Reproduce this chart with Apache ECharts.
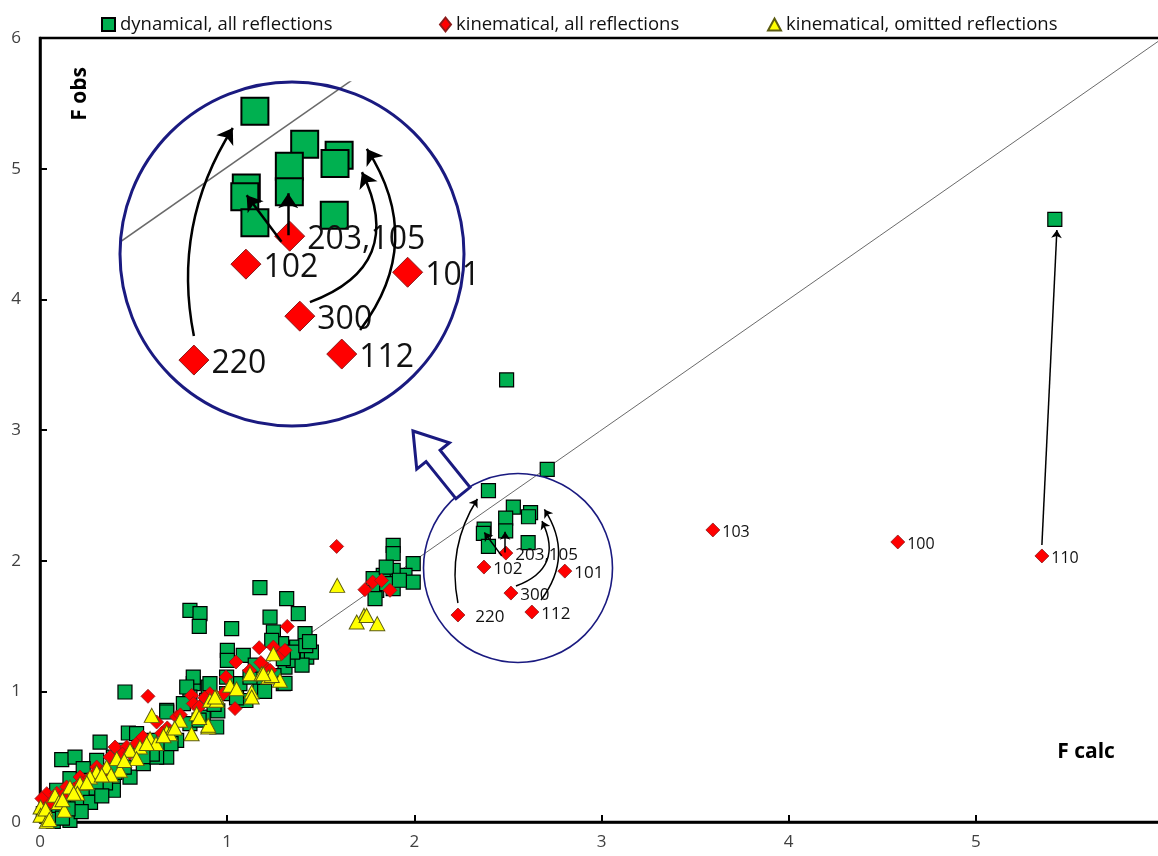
<!DOCTYPE html>
<html><head><meta charset="utf-8">
<script src="https://cdn.jsdelivr.net/npm/echarts@6/dist/echarts.min.js"></script>
<style>html,body{margin:0;padding:0;background:#fff}#c{width:1158px;height:856px}</style>
</head><body><div id="c"></div>
<script>
// ---------- data ----------
const axisMin = 0, axisMax = 6, axisStep = 1;
const diagonal = [[0, 0], [6, 6]];

// dynamical, all reflections (green squares), outside the highlighted circle
const dynamical = [
 [1.175,1.793],[1.318,1.709],[0.801,1.620],[0.855,1.594],[0.851,1.497],[1.024,1.480],[1.380,1.594],[1.229,1.568],
 [1.247,1.454],[1.416,1.441],[1.001,1.314],[1.086,1.275],[1.001,1.237],[1.291,1.365],[1.309,1.186],[1.371,1.339],
 [1.425,1.262],[1.238,1.390],[1.353,1.237],[1.300,1.059],[1.175,1.033],[1.068,1.059],[0.997,1.109],[1.122,1.109],
 [0.899,1.033],[0.819,1.059],[0.819,1.109],[0.890,0.931],[0.801,0.956],[0.766,0.906],[0.997,0.982],[0.677,0.855],
 [0.454,0.995],[0.116,0.477],[0.187,0.497],[0.321,0.612],[0.472,0.681],[0.516,0.676],[0.677,0.842],[0.160,0.332],
 [0.303,0.472],[0.392,0.497],[0.231,0.409],[0.445,0.549],[0.534,0.574],[0.588,0.625],[0.650,0.574],[0.677,0.497],
 [0.730,0.625],[0.801,0.753],[0.872,0.803],[0.944,0.727],[0.784,1.033],[0.908,1.059],[0.481,0.344],[0.392,0.319],
 [0.303,0.243],[0.552,0.447],[0.623,0.497],[0.214,0.191],[0.125,0.115],[0.053,0.141],[0.018,0.064],[0.160,0.013],
 [0.071,0.005],[0.392,0.243],[0.267,0.319],[0.089,0.243],
 [1.887,2.117],[1.887,2.054],[1.994,1.977],[1.950,1.888],[1.994,1.836],[1.887,1.926],[1.834,1.888],[1.780,1.862],
 [1.799,1.773],[1.887,1.786],[1.790,1.709],[1.852,1.824],[1.850,1.950],[1.920,1.850],
 [1.100,0.930],[1.200,1.000],[1.450,1.300],[1.400,1.200],[1.150,1.200],[0.950,0.850],[0.850,0.780],[0.700,0.600],
 [0.600,0.520],[0.550,0.500],[0.450,0.420],[0.350,0.300],[0.250,0.210],[0.200,0.120],[0.100,0.060],[0.050,0.020],
 [0.120,0.030],[1.050,0.950],[1.250,1.120],[1.350,1.300],[1.420,1.350],[0.930,0.900],[0.400,0.380],[0.300,0.260],
 [0.270,0.150],[0.220,0.080],[0.150,0.100],[0.330,0.200],[1.300,1.250],[1.440,1.380],[1.309,1.061],
 [2.493,3.383],[2.710,2.698],[5.422,4.612]
];
// dynamical points inside the highlighted circle
const dynCircle = [
 [2.396,2.536],[2.529,2.410],[2.621,2.368],[2.610,2.336],[2.488,2.326],[2.488,2.228],[2.373,2.242],[2.369,2.209],
 [2.396,2.109],[2.608,2.138]
];
// kinematical, all reflections (red diamonds)
const kinematical = [
 [1.321,1.497],[1.171,1.334],[1.047,1.224],[0.994,1.109],[1.247,1.339],[1.291,1.288],[1.309,1.314],[1.202,1.186],
 [1.229,1.161],[0.908,0.982],[0.810,0.969],[0.819,0.906],[1.042,0.868],[0.577,0.962],[0.401,0.574],[0.730,0.803],
 [0.623,0.765],[0.516,0.600],[0.303,0.421],[0.142,0.268],[0.036,0.217],[0.010,0.179],[0.214,0.344],[0.374,0.497],
 [0.463,0.574],[0.979,0.982],[1.585,2.109],[1.736,1.778],[1.777,1.836],[1.825,1.849],[1.870,1.773],[0.090,0.220],
 [0.180,0.250],[0.260,0.330],[0.550,0.650],[0.680,0.720],[0.850,0.880],[0.440,0.520],[0.300,0.380],[0.060,0.150],
 [0.120,0.200],[0.650,0.680],[0.750,0.820],[0.880,0.950],[1.120,1.160],[1.180,1.220],[0.480,0.530],[0.350,0.400],
 [0.220,0.300],[0.020,0.100]
];
// labelled kinematical reflections: [F calc, F obs, hkl]
const kinLabelled = [
 [2.233,1.584,'220'],[2.372,1.951,'102'],[2.489,2.058,'203,105'],[2.516,1.752,'300'],[2.628,1.607,'112'],
 [2.804,1.920,'101'],[3.595,2.235,'103'],[4.583,2.143,'100'],[5.353,2.036,'110']
];
const circleLabelCount = 6;   // first entries lie inside the magnified circle
// kinematical, omitted reflections (yellow triangles)
const omitted = [
 [1.588,1.811],[1.731,1.581],[1.692,1.530],[1.802,1.518],[1.745,1.581],[1.247,1.288],[1.122,1.135],[1.184,1.135],
 [1.220,1.109],[1.282,1.084],[1.131,0.995],[1.131,0.956],[1.015,1.046],[0.944,0.956],[0.597,0.816],[0.677,0.689],
 [0.810,0.676],[0.899,0.727],[0.748,0.778],[0.837,0.829],[0.908,0.931],[0.944,0.931],[0.694,0.676],[0.588,0.638],
 [0.534,0.574],[0.481,0.549],[0.410,0.485],[0.356,0.421],[0.303,0.383],[0.267,0.344],[0.214,0.294],[0.160,0.268],
 [0.080,0.204],[0.003,0.115],[0.003,0.051],[0.036,0.005],[0.427,0.396],[0.516,0.485],[1.238,1.122],[1.193,1.135],
 [0.935,0.956],[0.899,0.740],[0.030,0.100],[0.100,0.150],[0.130,0.090],[0.050,0.020],[0.200,0.220],[0.380,0.360],
 [0.620,0.600],[0.570,0.600],[0.660,0.660],[0.720,0.720],[0.450,0.470],[0.330,0.360],[0.250,0.300],[0.180,0.220],
 [0.120,0.170],[0.850,0.800],[1.050,1.020]
];
// arrows kinematical -> dynamical
const arrowFrom = [[5.353,2.120],[2.233,1.676],[2.467,2.037],[2.485,2.062],[2.543,1.806],[2.677,1.699]];
const arrowTo   = [[5.433,4.531],[2.337,2.472],[2.374,2.215],[2.485,2.222],[2.682,2.303],[2.695,2.392]];
const arrowBend = [0, 0.2, 0, 0, -0.55, -0.35];
// magnified window (data range shown in the large circle)
const zoomX = [2.0356, 2.9546];
const zoomY = [1.3317, 2.648];

// ---------- chart ----------
const FONT = '"Open Sans", "Noto Sans", sans-serif';
const NAVY = '#1a1a80';
const chart = echarts.init(document.getElementById('c'), null, {renderer: 'canvas'});

function labelledItems(list, big) {
  return list.map((d, i) => ({
    value: [d[0], d[1]], name: d[2],
    label: {show: true, formatter: '{b}', position: 'right', distance: big ? 2 : (i === 0 ? 10 : 2),
            fontSize: big ? 32 : (i < circleLabelCount ? 17 : 16), color: '#111', fontFamily: FONT,
            offset: [0, big ? 4 : 2], opacity: 1}
  }));
}
function arrowItems(start) {
  const out = [];
  for (let i = start; i < arrowFrom.length; i++) {
    out.push({coords: [arrowFrom[i], arrowTo[i]], lineStyle: {curveness: arrowBend[i]}});
  }
  return out;
}

// hollow block arrow pointing from the small circle to the magnified one
const tip = [413, 431], tail = [463, 493];
const L = Math.hypot(tail[0]-tip[0], tail[1]-tip[1]);
const d = [(tail[0]-tip[0])/L, (tail[1]-tip[1])/L], n = [-d[1], d[0]];
const P = (a, b) => [tip[0] + d[0]*a + n[0]*b, tip[1] + d[1]*a + n[1]*b];
const arrowPts = [P(0,0), P(32,21), P(32,9), P(L,9), P(L,-9), P(32,-9), P(32,-21)];

const greenStyle = {color: '#00b050', borderColor: '#000', borderWidth: 1.2, opacity: 1};
const redStyle = {color: '#ff0000', borderColor: '#8c1a1a', borderWidth: 0.8, opacity: 1};
const yellowStyle = {color: '#ffff00', borderColor: '#5c5c10', borderWidth: 1, opacity: 1};

chart.setOption({
  animation: false,
  backgroundColor: '#fff',
  grid: [
    {left: 40, top: 38, width: 1123, height: 784, show: true, borderColor: '#000', borderWidth: 2.5,
     backgroundColor: 'transparent', outerBoundsMode: 'none', containLabel: false},
    {left: 120, top: 82, width: 344, height: 344, show: false, outerBoundsMode: 'none', containLabel: false}
  ],
  legend: [
    {data: ['dynamical, all reflections'], left: 96, top: 10, icon: 'rect', itemWidth: 13, itemHeight: 13, itemGap: 4,
     textStyle: {fontSize: 18.5, fontFamily: FONT, color: '#111'}},
    {data: ['kinematical, all reflections'], left: 434, top: 10, icon: 'diamond', itemWidth: 11, itemHeight: 14,
     textStyle: {fontSize: 18.5, fontFamily: FONT, color: '#111'}},
    {data: ['kinematical, omitted reflections'], left: 762, top: 10, icon: 'triangle', itemWidth: 13, itemHeight: 12,
     textStyle: {fontSize: 18.5, fontFamily: FONT, color: '#111'}}
  ],
  xAxis: [
    {type: 'value', gridIndex: 0, min: axisMin, max: axisMax, interval: axisStep,
     axisLine: {show: true, lineStyle: {color: '#000', width: 2.5}},
     axisTick: {show: true, inside: true, length: 7, lineStyle: {color: '#000', width: 2}},
     axisLabel: {fontSize: 17, color: '#404040', fontFamily: FONT, margin: 12},
     splitLine: {show: false}},
    {type: 'value', gridIndex: 1, min: zoomX[0], max: zoomX[1], show: false}
  ],
  yAxis: [
    {type: 'value', gridIndex: 0, min: axisMin, max: axisMax, interval: axisStep,
     axisLine: {show: true, lineStyle: {color: '#000', width: 2.5}},
     axisTick: {show: true, inside: true, length: 7, lineStyle: {color: '#000', width: 2}},
     axisLabel: {fontSize: 17, color: '#404040', fontFamily: FONT, margin: 19},
     splitLine: {show: false}},
    {type: 'value', gridIndex: 1, min: zoomY[0], max: zoomY[1], show: false}
  ],
  series: [
    {type: 'line', name: 'diag', data: diagonal, symbol: 'none', lineStyle: {color: '#6a6a6a', width: 1}, z: 1, silent: true},
    {type: 'scatter', name: 'dynamical, all reflections', data: dynamical.concat(dynCircle), symbol: 'rect', symbolSize: 14,
     itemStyle: greenStyle, clip: false},
    {type: 'scatter', name: 'kinematical, all reflections', data: kinematical.concat(labelledItems(kinLabelled, false)),
     symbol: 'diamond', symbolSize: 14, itemStyle: redStyle, clip: false},
    {type: 'scatter', name: 'kinematical, omitted reflections', data: omitted, symbol: 'triangle', symbolSize: [15, 14],
     itemStyle: yellowStyle, clip: false},
    {type: 'lines', name: 'arrows', coordinateSystem: 'cartesian2d', xAxisIndex: 0, yAxisIndex: 0, data: arrowItems(0),
     symbol: ['none', 'arrow'], symbolSize: 8, lineStyle: {color: '#000', width: 1.5, opacity: 1}, z: 5, silent: true},
    // magnified view
    {type: 'line', name: 'diagZoom', xAxisIndex: 1, yAxisIndex: 1, data: diagonal, symbol: 'none',
     lineStyle: {color: '#6a6a6a', width: 1.5}, z: 1, silent: true},
    {type: 'scatter', name: 'dynZoom', xAxisIndex: 1, yAxisIndex: 1, data: dynCircle, symbol: 'rect', symbolSize: 27,
     itemStyle: {color: '#00b050', borderColor: '#000', borderWidth: 2, opacity: 1}},
    {type: 'scatter', name: 'kinZoom', xAxisIndex: 1, yAxisIndex: 1,
     data: labelledItems(kinLabelled.slice(0, circleLabelCount), true), symbol: 'diamond', symbolSize: 30,
     itemStyle: {color: '#ff0000', borderColor: '#8c1a1a', borderWidth: 1, opacity: 1}},
    {type: 'lines', name: 'arrowsZoom', coordinateSystem: 'cartesian2d', xAxisIndex: 1, yAxisIndex: 1, data: arrowItems(1),
     symbol: ['none', 'arrow'], symbolSize: 15, lineStyle: {color: '#000', width: 2.5, opacity: 1}, z: 5, silent: true}
  ],
  graphic: [
    {type: 'circle', shape: {cx: 518, cy: 568, r: 94.5}, style: {fill: 'none', stroke: NAVY, lineWidth: 1.6}, z: 100, silent: true},
    {type: 'circle', shape: {cx: 292, cy: 254, r: 172}, style: {fill: 'none', stroke: NAVY, lineWidth: 3}, z: 100, silent: true},
    {type: 'polygon', shape: {points: arrowPts}, style: {fill: '#fff', stroke: NAVY, lineWidth: 3}, z: 101, silent: true},
    {type: 'text', x: 80, y: 94, rotation: Math.PI / 2, z: 100,
     style: {text: 'F obs', font: 'bold 21px ' + FONT, fill: '#000', textAlign: 'center', textVerticalAlign: 'middle'}},
    {type: 'text', x: 1086, y: 752, z: 100,
     style: {text: 'F calc', font: 'bold 21px ' + FONT, fill: '#000', textAlign: 'center', textVerticalAlign: 'middle'}}
  ]
});
</script></body></html>
